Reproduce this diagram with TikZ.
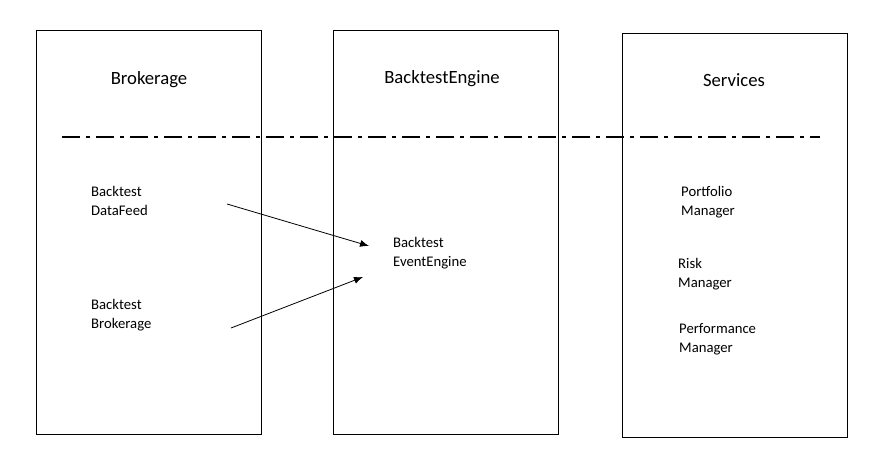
\documentclass[tikz,border=0pt]{standalone}
\usepackage{fontspec}
\setmainfont{Carlito}
\usetikzlibrary{arrows.meta}
\begin{document}
\begin{tikzpicture}[x=1pt,y=-1pt,
  layer/.style={draw,line width=0.9pt,minimum width=225pt,minimum height=404pt,inner sep=0pt,anchor=north west},
  title/.style={font=\fontsize{18.7}{22}\selectfont},
  item/.style={font=\fontsize{14.7}{19.5}\selectfont,align=left,anchor=west,inner sep=0pt},
  flow/.style={-{Latex[length=9pt,width=7pt]},line width=0.8pt}]
\useasboundingbox (0,0) rectangle (888,476);

\node[layer] (brokerage) at (36,30) {};
\node[layer] (engine) at (333,30) {};
\node[layer] (services) at (622,33) {};

\node[title] (brokeragetitle) at (149,80) {Brokerage};
\node[title] (enginetitle) at (442,79) {BacktestEngine};
\node[title] (servicestitle) at (734,80) {Services};

\draw[line width=1.6pt,dash pattern=on 18pt off 6pt on 4pt off 6pt] (62,137) -- (820,137);

\node[item] (datafeed) at (91,201) {Backtest\\DataFeed};
\node[item] (btbroker) at (91,315) {Backtest\\Brokerage};
\node[item] (eventengine) at (393,253) {Backtest\\EventEngine};
\node[item] (portfolio) at (681,202) {Portfolio\\Manager};
\node[item] (risk) at (678,274) {Risk\\Manager};
\node[item] (performance) at (679,339) {Performance\\Manager};

\coordinate (feedout) at (227,204);
\coordinate (feedin) at (369,246);
\coordinate (brokerout) at (231,328);
\coordinate (brokerin) at (363,277);
\draw[flow] (feedout) -- (feedin);
\draw[flow] (brokerout) -- (brokerin);
\end{tikzpicture}
\end{document}
